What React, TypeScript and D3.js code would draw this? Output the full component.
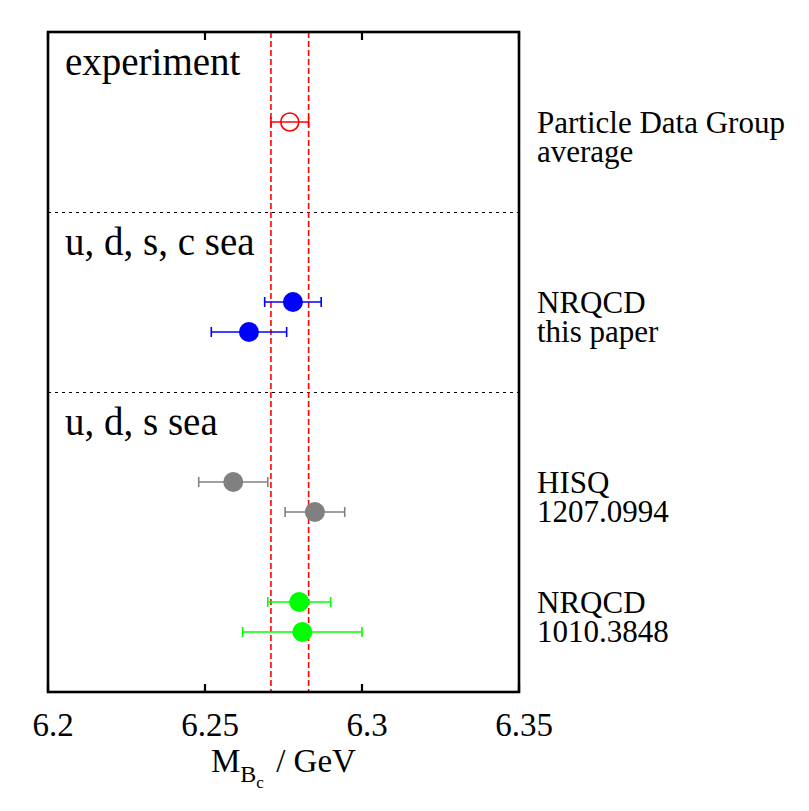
import * as d3 from 'd3'
import { useEffect, useRef } from 'react'

const width = 809, height = 811

// rows are slots on a categorical vertical axis (0 = top of frame, 22 = bottom)
const sections = ['experiment', 'u, d, s, c sea', 'u, d, s sea']
const sectionRows = [0, 6, 12]

const pointRows = [3, 9, 10, 15, 16, 19, 20]
const masses = [6.277, 6.278, 6.264, 6.259, 6.285, 6.280, 6.281]
const errors = [0.006, 0.009, 0.012, 0.011, 0.0095, 0.010, 0.019]
const pointColors = ['#ff0000', '#0000ff', '#0000ff', '#808080', '#808080', '#00ff00', '#00ff00']
const openPoint = [true, false, false, false, false, false, false]

const labelRows = [3, 9, 15, 19]
const labelLines = [
  ['Particle Data Group', 'average'],
  ['NRQCD', 'this paper'],
  ['HISQ', '1207.0994'],
  ['NRQCD', '1010.3848'],
]

const pdgMass = 6.277, pdgErr = 0.006
const xTicks = [6.2, 6.25, 6.3, 6.35]
const xTickLabels = ['6.2', '6.25', '6.3', '6.35']

const chart = (node: SVGSVGElement) => {
  const svg = d3.select(node)
  svg.selectAll('*').remove()

  const x = d3.scaleLinear().domain([6.2, 6.35]).range([48, 519])
  const y = d3.scaleLinear().domain([0, 22]).range([32, 692])
  const font = "'Liberation Serif', 'Times New Roman', serif"

  svg.append('rect').attr('width', width).attr('height', height).attr('fill', 'white')

  // separators
  svg.append('g')
    .selectAll('line')
    .data([6, 12])
    .join('line')
    .attr('x1', x(6.2)).attr('x2', x(6.35))
    .attr('y1', d => y(d) + 0.5).attr('y2', d => y(d) + 0.5)
    .attr('stroke', 'black').attr('stroke-width', 1)
    .attr('shape-rendering', 'crispEdges')
    .attr('stroke-dasharray', '3,4')

  // PDG band
  svg.append('g')
    .selectAll('line')
    .data([pdgMass - pdgErr, pdgMass + pdgErr])
    .join('line')
    .attr('x1', d => x(d)).attr('x2', d => x(d))
    .attr('y1', y(0)).attr('y2', y(22))
    .attr('stroke', '#ff0000').attr('stroke-width', 1.6)
    .attr('stroke-dasharray', '6,3')

  // error bars
  const pts = d3.range(masses.length)
  const eb = svg.append('g').attr('stroke-width', 1.6)
  eb.selectAll('line.bar')
    .data(pts)
    .join('line')
    .attr('class', 'bar')
    .attr('x1', i => x(masses[i] - errors[i])).attr('x2', i => x(masses[i] + errors[i]))
    .attr('y1', i => y(pointRows[i])).attr('y2', i => y(pointRows[i]))
    .attr('stroke', i => pointColors[i])
  for (const side of [-1, 1]) {
    eb.append('g')
      .selectAll('line')
      .data(pts)
      .join('line')
      .attr('x1', i => x(masses[i] + side * errors[i])).attr('x2', i => x(masses[i] + side * errors[i]))
      .attr('y1', i => y(pointRows[i]) - 5).attr('y2', i => y(pointRows[i]) + 5)
      .attr('stroke', i => pointColors[i])
  }

  // points
  svg.append('g')
    .selectAll('circle')
    .data(pts)
    .join('circle')
    .attr('cx', i => x(masses[i])).attr('cy', i => y(pointRows[i]))
    .attr('r', i => openPoint[i] ? 9 : 10)
    .attr('fill', i => openPoint[i] ? 'white' : pointColors[i])
    .attr('fill-opacity', i => openPoint[i] ? 0 : 1)
    .attr('stroke', i => openPoint[i] ? pointColors[i] : 'none')
    .attr('stroke-width', 1.6)

  // frame
  svg.append('rect')
    .attr('x', x(6.2)).attr('y', y(0))
    .attr('width', x(6.35) - x(6.2)).attr('height', y(22) - y(0))
    .attr('fill', 'none').attr('stroke', 'black').attr('stroke-width', 2.6)

  // inward ticks top and bottom
  const ticks = svg.append('g').attr('stroke', 'black').attr('stroke-width', 2.2)
  ticks.selectAll('line.b')
    .data(xTicks)
    .join('line')
    .attr('class', 'b')
    .attr('x1', d => x(d)).attr('x2', d => x(d))
    .attr('y1', y(22)).attr('y2', y(22) - 8)
  ticks.selectAll('line.t')
    .data(xTicks)
    .join('line')
    .attr('class', 't')
    .attr('x1', d => x(d)).attr('x2', d => x(d))
    .attr('y1', y(0)).attr('y2', y(0) + 8)

  const txt = svg.append('g').attr('font-family', font).attr('fill', 'black')

  txt.selectAll('text.tick')
    .data(xTicks)
    .join('text')
    .attr('class', 'tick')
    .attr('x', d => x(d) + 5).attr('y', 736)
    .attr('text-anchor', 'middle').attr('font-size', 33)
    .text((d, i) => xTickLabels[i])

  // axis title
  const title = txt.append('text').attr('x', 211).attr('y', 772).attr('font-size', 33)
  title.append('tspan').text('M')
  title.append('tspan').attr('font-size', 24).attr('dy', 10).text('B')
  title.append('tspan').attr('font-size', 17).attr('dy', 6).text('c')
  title.append('tspan').attr('dy', -16).attr('dx', 4).text(' / GeV')

  // section labels
  txt.selectAll('text.sec')
    .data(sections)
    .join('text')
    .attr('class', 'sec')
    .attr('x', 65).attr('y', (d, i) => y(sectionRows[i]) + 43)
    .attr('font-size', 39)
    .text(d => d)

  // right-hand labels
  labelLines.forEach((lines, i) => {
    txt.append('g')
      .selectAll('text')
      .data(lines)
      .join('text')
      .attr('x', 537)
      .attr('y', (d, j) => y(labelRows[i]) + 11 + j * 29)
      .attr('font-size', 31)
      .text(d => d)
  })

  return svg.node()
}

export default function App() {
  const svg = useRef<SVGSVGElement>(null)
  useEffect(() => {
    if (svg.current) chart(svg.current)
  }, [])
  return (
    <svg
      ref={svg}
      width={width}
      height={height}
      style={{ position: 'absolute', left: 0, top: 0 }}
    />
  )
}
